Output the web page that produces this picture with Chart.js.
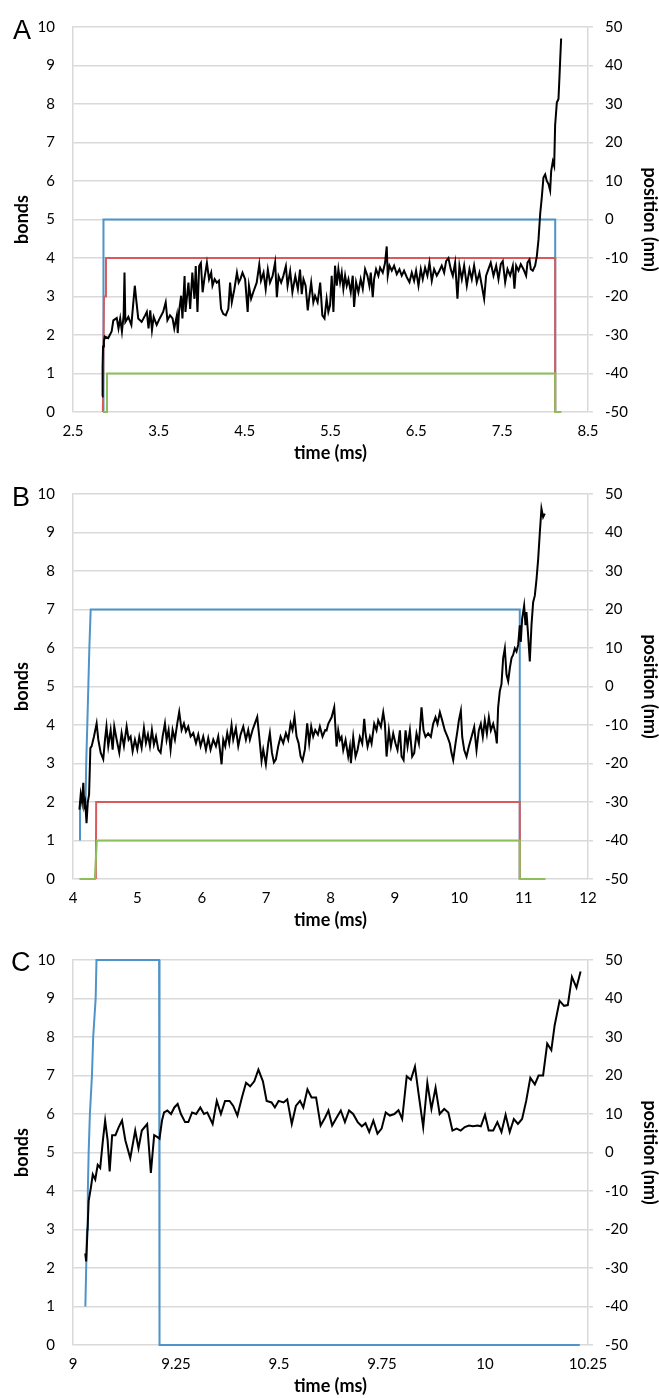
<!DOCTYPE html>
<html>
<head>
<meta charset="utf-8">
<title>bonds and position vs time</title>
<script src="https://cdn.jsdelivr.net/npm/chart.js@4.4.1/dist/chart.umd.min.js"></script>
<style>
  html, body { margin: 0; padding: 0; background: #fff; }
  body { width: 659px; height: 1398px; position: relative; overflow: hidden; }
  .panel { position: absolute; left: 0; width: 659px; height: 462px; }
  .letter { position: absolute; font-family: "Liberation Sans", Arial, sans-serif; font-size: 27px; line-height: 27px; color: #000; }
</style>
</head>
<body>
<div class="panel" style="top:0px"><canvas id="chartA"></canvas></div>
<div class="panel" style="top:467px"><canvas id="chartB"></canvas></div>
<div class="panel" style="top:933px"><canvas id="chartC"></canvas></div>
<div class="letter" style="left:13px;top:17px">A</div>
<div class="letter" style="left:12px;top:484px">B</div>
<div class="letter" style="left:11px;top:949px">C</div>

<script>
// ---- panel A ----
const aTicks = [2.5, 3.5, 4.5, 5.5, 6.5, 7.5, 8.5];
const aBlueT = [2.853, 2.855, 8.118, 8.118];
const aBlueV = [0, 5, 5, 0];
const aRedT = [2.848, 2.861, 2.876, 2.884, 8.118, 8.118];
const aRedV = [0, 3, 3, 4, 4, 0];
const aGreenT = [2.853, 2.892, 2.896, 8.118, 8.118, 8.19];
const aGreenV = [0, 0, 1, 1, 0, 0];
const aTime = [2.84, 2.845, 2.85, 2.86, 2.87, 2.91, 2.95, 2.97, 3.01, 3.03, 3.05, 3.07, 3.09, 3.10, 3.11, 3.145, 3.18, 3.22, 3.24, 3.26,
  3.30, 3.34, 3.36, 3.38, 3.40, 3.42, 3.44, 3.475, 3.51, 3.55, 3.58, 3.60, 3.63, 3.66, 3.68, 3.71, 3.72, 3.735, 3.76, 3.775,
  3.80, 3.81, 3.845, 3.865, 3.89, 3.915, 3.93, 3.95, 3.97, 3.99, 4.01, 4.03, 4.06, 4.085, 4.11, 4.125, 4.15, 4.175, 4.20, 4.225,
  4.25, 4.28, 4.31, 4.33, 4.35, 4.38, 4.41, 4.43, 4.45, 4.475, 4.505, 4.535, 4.55, 4.575, 4.60, 4.64, 4.67, 4.69, 4.72, 4.745,
  4.77, 4.795, 4.825, 4.855, 4.875, 4.895, 4.925, 4.95, 4.98, 5.00, 5.03, 5.056, 5.09, 5.12, 5.145, 5.165, 5.185, 5.21, 5.235, 5.25,
  5.275, 5.30, 5.32, 5.35, 5.38, 5.405, 5.43, 5.455, 5.475, 5.495, 5.514, 5.534, 5.553, 5.573, 5.592, 5.612, 5.631, 5.650, 5.670, 5.689,
  5.709, 5.736, 5.759, 5.775, 5.798, 5.825, 5.852, 5.876, 5.903, 5.930, 5.953, 5.969, 5.992, 6.008, 6.031, 6.058, 6.078, 6.109, 6.136, 6.155,
  6.167, 6.187, 6.214, 6.241, 6.272, 6.303, 6.330, 6.357, 6.389, 6.420, 6.447, 6.474, 6.497, 6.525, 6.552, 6.575, 6.602, 6.629, 6.653, 6.680,
  6.707, 6.738, 6.769, 6.796, 6.824, 6.847, 6.874, 6.901, 6.925, 6.952, 6.979, 7.002, 7.030, 7.057, 7.088, 7.119, 7.146, 7.173, 7.204, 7.235,
  7.263, 7.290, 7.313, 7.340, 7.367, 7.399, 7.430, 7.457, 7.484, 7.507, 7.535, 7.562, 7.593, 7.624, 7.643, 7.663, 7.690, 7.717, 7.748, 7.779,
  7.795, 7.818, 7.834, 7.857, 7.884, 7.904, 7.923, 7.943, 7.962, 7.981, 8.001, 8.020, 8.040, 8.059, 8.071, 8.090, 8.106, 8.117, 8.137, 8.156,
  8.168, 8.176, 8.187];
const aPos = [-46, -38, -33, -31.7, -30.4, -30.8, -29.1, -26.2, -25.6, -28.3, -25.7, -29.1, -24.9, -13.8, -26.6, -25.3, -27.4, -17.2, -21.5, -25.7,
  -26.6, -24.9, -24, -28.3, -23.6, -28.7, -25.3, -27.4, -25.7, -24, -21.5, -26.2, -24.9, -25.7, -28.3, -24.9, -29.5, -24, -19.8, -25.7,
  -14.7, -24, -16.4, -23.2, -13.8, -20.6, -12.1, -24, -12.1, -11.3, -18.9, -15.5, -11.3, -15.5, -13.8, -17.2, -15.5, -16.4, -15.9, -23.2,
  -24.5, -24.9, -23.2, -16.4, -21.5, -18.1, -13.8, -16.4, -15.5, -13.8, -15.5, -24, -17.2, -20.6, -18.9, -16.4, -11.7, -15.9, -13.8, -18.1,
  -13, -16.4, -14.7, -11.1, -20.2, -14.7, -16.4, -14.7, -12.1, -17.2, -13.4, -18.9, -14.7, -18.1, -13, -19.4, -15.5, -17.2, -23.6, -20.6,
  -16.4, -21.5, -19.8, -21.5, -16.4, -24.9, -25.7, -20.6, -24, -22.3, -14.6, -24, -12, -17.2, -12.9, -16.3, -13.8, -18, -14.6, -17.2,
  -15.5, -18.9, -14.6, -22.7, -16.3, -18.9, -15.5, -18, -12.9, -14.6, -17.2, -13.8, -20.2, -15.5, -12.9, -14.6, -12.5, -13.8, -11.2, -7,
  -14.6, -12, -13.3, -12, -14.2, -12.9, -14.6, -13.3, -15, -16.3, -13.8, -15.9, -13.3, -17.2, -12.9, -15.5, -12.5, -14.6, -11.2, -15.9,
  -12.9, -14.6, -13.3, -12, -13.8, -10.8, -10, -12.9, -14.6, -11.2, -20.6, -12, -15.5, -12, -17.2, -12.9, -15.5, -12, -16.3, -13.8,
  -17.2, -20.6, -14.6, -12.9, -11.2, -14.6, -12, -15.5, -11.6, -10.8, -16.3, -12.9, -14.6, -12, -18, -12, -13.3, -11.6, -12.9, -14.6,
  -11.2, -10.4, -12.9, -13.3, -12, -9.5, -5.3, 1.5, 5.8, 10.9, 11.7, 10, 9.2, 7.5, 12.6, 15.1, 13.9, 24.5, 30.4, 31.3,
  37.2, 41.5, 47];

// ---- panel B ----
const bTicks = [4, 5, 6, 7, 8, 9, 10, 11, 12];
const bBlueT = [4.109, 4.109, 4.195, 4.205, 4.222, 4.238, 4.254, 4.275, 10.94, 10.94];
const bBlueV = [1, 2, 2, 3, 4, 5, 6, 7, 7, 0];
const bRedT = [4.355, 4.36, 10.94, 10.94];
const bRedV = [0, 2, 2, 0];
const bGreenT = [4.10, 4.34, 4.37, 10.94, 10.94, 11.34];
const bGreenV = [0, 0, 1, 1, 0, 0];
const bTime = [4.10, 4.12, 4.14, 4.16, 4.175, 4.19, 4.21, 4.23, 4.25, 4.27, 4.29, 4.326, 4.367, 4.393, 4.43, 4.47, 4.497, 4.52, 4.548, 4.585,
  4.616, 4.641, 4.678, 4.719, 4.755, 4.791, 4.833, 4.864, 4.895, 4.926, 4.962, 4.999, 5.03, 5.066, 5.102, 5.133, 5.164, 5.195, 5.226, 5.257,
  5.289, 5.325, 5.361, 5.392, 5.428, 5.454, 5.485, 5.516, 5.547, 5.583, 5.62, 5.65, 5.687, 5.723, 5.754, 5.79, 5.827, 5.868, 5.91, 5.946,
  5.982, 6.023, 6.065, 6.101, 6.137, 6.179, 6.22, 6.256, 6.282, 6.308, 6.334, 6.365, 6.396, 6.427, 6.463, 6.489, 6.53, 6.567, 6.603, 6.645,
  6.686, 6.722, 6.748, 6.789, 6.826, 6.862, 6.893, 6.929, 6.955, 6.996, 7.033, 7.058, 7.09, 7.121, 7.152, 7.188, 7.224, 7.266, 7.307, 7.343,
  7.38, 7.41, 7.441, 7.473, 7.504, 7.535, 7.566, 7.602, 7.638, 7.669, 7.7, 7.731, 7.763, 7.804, 7.835, 7.876, 7.918, 7.939, 7.965, 8.017,
  8.058, 8.094, 8.12, 8.146, 8.172, 8.198, 8.234, 8.275, 8.301, 8.317, 8.353, 8.389, 8.42, 8.456, 8.493, 8.524, 8.544, 8.576, 8.612, 8.638,
  8.679, 8.715, 8.741, 8.783, 8.819, 8.845, 8.871, 8.907, 8.938, 8.974, 9.01, 9.041, 9.078, 9.104, 9.135, 9.166, 9.197, 9.233, 9.269, 9.3,
  9.336, 9.373, 9.414, 9.445, 9.476, 9.517, 9.559, 9.595, 9.631, 9.662, 9.699, 9.735, 9.776, 9.818, 9.854, 9.88, 9.906, 9.942, 9.973, 9.994,
  10.025, 10.046, 10.077, 10.113, 10.149, 10.19, 10.232, 10.268, 10.304, 10.335, 10.366, 10.397, 10.429, 10.46, 10.491, 10.527, 10.563, 10.584, 10.604, 10.63,
  10.656, 10.682, 10.708, 10.734, 10.76, 10.786, 10.812, 10.837, 10.863, 10.889, 10.915, 10.941, 10.956, 10.977, 11.008, 11.029, 11.044, 11.07, 11.096, 11.122,
  11.148, 11.174, 11.2, 11.225, 11.251, 11.277, 11.303, 11.329];
const bPos = [-32, -28, -30, -25, -31, -30, -35.5, -30, -28, -16, -15.5, -13, -9.6, -13.8, -17.2, -18.9, -13.8, -10.4, -15.5, -11.3,
  -16.4, -10.4, -13.8, -17.2, -12.1, -15.5, -10.4, -13.8, -13, -16.8, -13.8, -16.4, -13, -15.9, -10.8, -14.7, -12.5, -15.5, -11.3, -15.1,
  -13, -16.4, -17.2, -13, -9.6, -13.8, -11.3, -16.4, -11.3, -13.8, -9.6, -6.6, -11.3, -9.6, -11.7, -10.4, -13, -12.1, -14.7, -12.5,
  -15.5, -13, -16.4, -13.4, -16.4, -13.8, -15.5, -13, -16.4, -20.2, -13.8, -15.5, -12.1, -14.7, -10, -13.8, -10.8, -15.5, -12.5, -10.4,
  -13.8, -11.3, -13.8, -11.3, -9.6, -7.9, -13, -19.3, -16.4, -20.2, -14.7, -12.1, -17.2, -19.7, -18.9, -15.5, -13, -14.7, -12.1, -13.8,
  -9.6, -11.3, -7.9, -13, -14.7, -18.1, -19.3, -16.4, -9.6, -14.7, -10.4, -13, -11.3, -12.5, -10.4, -13, -11.3, -11.4, -9.7, -8,
  -5.4, -15.6, -11.4, -13.9, -13.1, -16.5, -13.9, -18.2, -15.6, -19.9, -13.1, -18.2, -16.5, -13.1, -14.8, -8.4, -12.2, -15.6, -13.1, -14.8,
  -9.7, -11.4, -8.8, -10.5, -6.7, -9.7, -18.2, -11.4, -15.6, -12.2, -14.8, -16.5, -11.4, -18.2, -19.1, -11.4, -15.6, -11.4, -18.2, -17.3,
  -12.2, -14.8, -5.4, -11.4, -13.1, -12.2, -13.1, -9.7, -8, -9.7, -6.7, -8.8, -11.4, -13.1, -14.8, -17.3, -19.1, -14.8, -11.4, -8.8,
  -6.3, -13.1, -16.5, -18.2, -15.6, -13.1, -10.5, -16.5, -11.4, -9.7, -13.1, -8.8, -12.2, -8, -11.4, -9.7, -12.2, -14.8, -5.4, -1.2,
  0.6, 7.4, 9.9, 3.1, 1.4, 4.8, 7.4, 8.2, 9.9, 9.1, 10.8, 15.9, 11.6, 17.6, 21, 15.9, 19.3, 13.3, 6.5, 15.9,
  21.9, 23.6, 27.8, 32.9, 39.8, 46.2, 44, 44.9];

// ---- panel C ----
const cTicks = [9, 9.25, 9.5, 9.75, 10, 10.25];
const cBlueT = [9.030, 9.032, 9.034, 9.036, 9.038, 9.041, 9.046, 9.049, 9.055, 9.057, 9.209, 9.21, 10.23];
const cBlueV = [1, 2, 3, 4, 5, 6, 7, 8, 9, 10, 10, 0, 0];
const cTime = [9.0297, 9.032, 9.035, 9.038, 9.044, 9.048, 9.054, 9.06, 9.066, 9.073, 9.078, 9.084, 9.089, 9.095, 9.103, 9.111, 9.119, 9.127, 9.139, 9.151,
  9.159, 9.167, 9.18, 9.189, 9.197, 9.205, 9.21, 9.216, 9.221, 9.229, 9.238, 9.246, 9.254, 9.262, 9.272, 9.28, 9.289, 9.299, 9.309, 9.318,
  9.326, 9.339, 9.349, 9.359, 9.369, 9.38, 9.389, 9.399, 9.41, 9.42, 9.43, 9.44, 9.45, 9.461, 9.47, 9.482, 9.49, 9.499, 9.511, 9.52,
  9.531, 9.541, 9.551, 9.559, 9.569, 9.579, 9.59, 9.601, 9.612, 9.62, 9.629, 9.64, 9.65, 9.66, 9.67, 9.68, 9.691, 9.701, 9.71, 9.719,
  9.729, 9.739, 9.749, 9.759, 9.769, 9.78, 9.79, 9.799, 9.81, 9.82, 9.83, 9.839, 9.85, 9.86, 9.87, 9.88, 9.89, 9.901, 9.911, 9.921,
  9.931, 9.941, 9.951, 9.961, 9.971, 9.982, 9.99, 10.0, 10.009, 10.02, 10.03, 10.04, 10.05, 10.06, 10.07, 10.08, 10.09, 10.1, 10.11, 10.121,
  10.13, 10.141, 10.151, 10.161, 10.169, 10.181, 10.192, 10.201, 10.211, 10.222, 10.232];
const cPos = [-26.2, -28.3, -20.6, -12.6, -8.7, -5.7, -7, -3.2, -4, 3.6, 8.3, 3.2, -4.9, 4.5, 4.5, 6.6, 8.3, 3.2, -1.5, 5.7,
  1.1, 5.7, 7.4, -5.3, 4.5, 4.0, 3.6, 8.3, 10.4, 10.9, 10, 11.7, 12.6, 10, 7.9, 7.9, 10.4, 10, 11.7, 10,
  10.4, 7.4, 13.4, 10, 13.4, 13.4, 12.1, 9.6, 14.3, 18.1, 17.2, 18.5, 21.5, 18.5, 13.4, 13, 11.7, 13.4, 13, 13.8,
  7.4, 12.1, 13.4, 11.7, 16.4, 14.3, 14.3, 7, 9.1, 10.9, 7, 9.1, 10.9, 7.9, 10.9, 10, 7.9, 6.8, 7.6, 5.3,
  8.3, 4.9, 6.2, 10.4, 9.6, 10, 11, 8.7, 19.8, 18.9, 22.3, 15.1, 6.6, 18.1, 11.3, 16.8, 10, 11.3, 10.4, 5.7,
  6.2, 5.7, 6.6, 7, 6.8, 7, 6.8, 9.8, 5.7, 5.7, 7.9, 5.3, 9.8, 5.3, 8.7, 7.4, 8.7, 13.4, 19.4, 17.7,
  20, 20, 28.3, 26.6, 33, 39.4, 38.1, 38.3, 45.6, 42.8, 47];

const blue = '#4f94c8';
const red = '#d95a5a';
const green = '#8cbf5a';
const gridColor = '#d9d9d9';
const tickFont = { family: 'Lato, "Open Sans", sans-serif', size: 15 };
const titleFont = { family: 'Lato, "Open Sans", sans-serif', size: 18, weight: 'bold', lineHeight: 1 };

function pts(t, v) {
    return t.map((x, i) => ({ x: x, y: v[i] }));
}

function line(data, color, axis, width) {
    return {
        data: data,
        borderColor: color,
        borderWidth: width,
        pointRadius: 0,
        tension: 0,
        fill: false,
        clip: false,
        yAxisID: axis
    };
}

function makeChart(id, xMin, xMax, xTicks, steps, time, pos) {
    // black trace first so it is drawn on top
    const datasets = [line(pts(time, pos), '#000', 'y2', 2)];
    steps.forEach(s => datasets.push(line(pts(s.t, s.v), s.color, 'y', 2)));

    return new Chart(document.getElementById(id), {
        type: 'line',
        data: { datasets: datasets },
        options: {
            responsive: true,
            maintainAspectRatio: false,
            animation: false,
            layout: { padding: { top: 20, left: 0, right: 0, bottom: 0 } },
            plugins: { legend: { display: false }, tooltip: { enabled: false } },
            scales: {
                x: {
                    type: 'linear',
                    min: xMin,
                    max: xMax,
                    afterBuildTicks: s => { s.ticks = xTicks.map(v => ({ value: v })); },
                    afterFit: s => { s.height = 50; },
                    grid: { display: false, drawTicks: false },
                    border: { display: false },
                    ticks: { padding: 10, font: tickFont, color: '#000', maxRotation: 0, callback: v => String(v) },
                    title: { display: true, text: 'time (ms)', font: titleFont, color: '#000', padding: { top: 0, bottom: 0 } }
                },
                y: {
                    position: 'left',
                    min: 0,
                    max: 10,
                    afterFit: s => { s.width = 73; },
                    grid: { color: gridColor, lineWidth: 1.5, drawTicks: false },
                    border: { display: true, color: gridColor, width: 1.5 },
                    ticks: { stepSize: 1, padding: 18, font: tickFont, color: '#000', callback: v => String(v) },
                    title: { display: true, text: 'bonds', font: titleFont, color: '#000', padding: { top: 13, bottom: 0 } }
                },
                y2: {
                    position: 'right',
                    min: -50,
                    max: 50,
                    afterFit: s => { s.width = 71; },
                    grid: { drawOnChartArea: false, drawTicks: true, tickLength: 5, color: gridColor, lineWidth: 1.5 },
                    border: { display: true, color: gridColor, width: 1.5 },
                    ticks: { stepSize: 10, padding: 12, font: tickFont, color: '#000', callback: v => String(v) },
                    title: { display: true, text: 'position (nm)', font: titleFont, color: '#000', padding: { top: 0, bottom: 0 } }
                }
            }
        }
    });
}

makeChart('chartA', 2.5, 8.5, aTicks, [
    { t: aGreenT, v: aGreenV, color: green },
    { t: aRedT, v: aRedV, color: red },
    { t: aBlueT, v: aBlueV, color: blue }
], aTime, aPos);

makeChart('chartB', 4, 12, bTicks, [
    { t: bGreenT, v: bGreenV, color: green },
    { t: bRedT, v: bRedV, color: red },
    { t: bBlueT, v: bBlueV, color: blue }
], bTime, bPos);

makeChart('chartC', 9, 10.25, cTicks, [
    { t: cBlueT, v: cBlueV, color: blue }
], cTime, cPos);
</script>
</body>
</html>
